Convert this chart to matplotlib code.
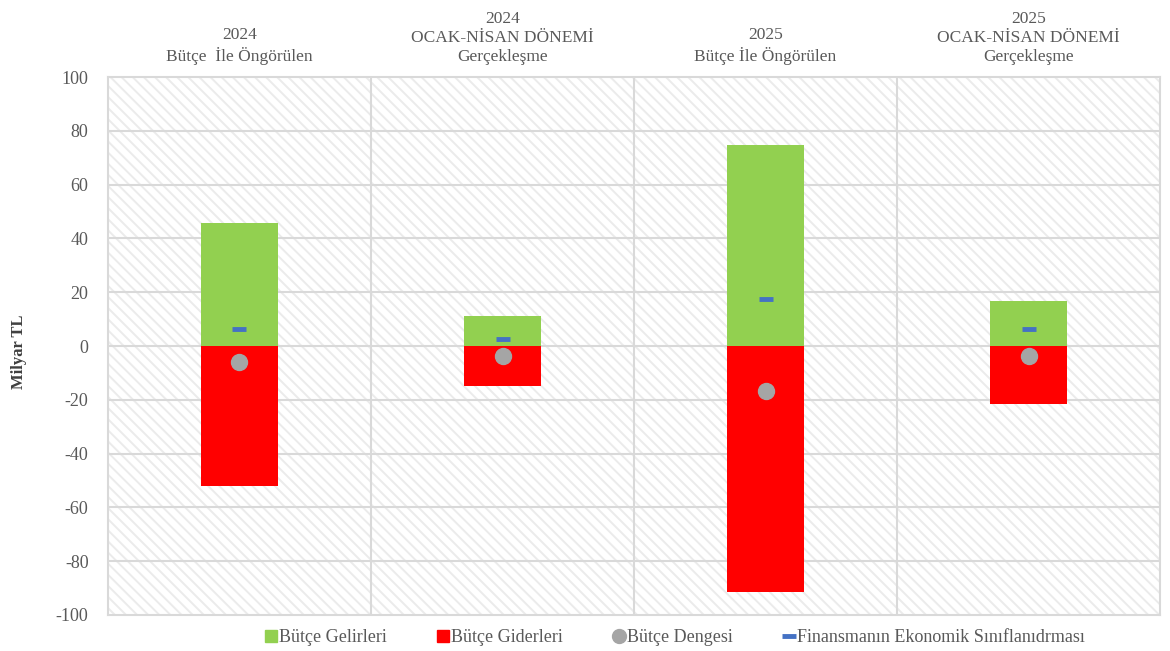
import matplotlib
matplotlib.use("Agg")
import matplotlib.pyplot as plt
import numpy as np
from matplotlib.lines import Line2D
from matplotlib.patches import Rectangle

CATEGORIES = [
    "2024\nBütçe  İle Öngörülen",
    "2024\nOCAK-NİSAN DÖNEMİ\nGerçekleşme",
    "2025\nBütçe İle Öngörülen",
    "2025\nOCAK-NİSAN DÖNEMİ\nGerçekleşme",
]
GELIR = [45.7, 11.2, 74.7, 16.7]
GIDER = [-52.0, -14.9, -91.4, -21.6]
DENGE = [-5.9, -3.7, -16.7, -3.7]
FINANSMAN = [6.3, 2.6, 17.5, 6.3]

GREEN = "#92D050"
RED = "#FF0000"
GRAY = "#A5A5A5"
BLUE = "#4472C4"
TEXT = "#595959"
GRID = "#D9D9D9"

plt.rcParams.update({
    "font.family": ["Liberation Serif", "DejaVu Serif"],
    "font.size": 11,
    "axes.unicode_minus": False,
    "hatch.color": "#EBEBEB",
    "hatch.linewidth": 1.4,
})

fig = plt.figure(figsize=(11.7, 6.51), dpi=100)
ax = fig.add_axes([0.0923, 0.0553, 0.8992, 0.8264])

x = np.arange(len(CATEGORIES))
ax.set_xlim(-0.5, len(CATEGORIES) - 0.5)
ax.set_ylim(-100, 100)

# hatched plot-area background
ax.add_patch(Rectangle((0, 0), 1, 1, transform=ax.transAxes, facecolor="white",
                       edgecolor="#EBEBEB", hatch="\\\\\\", linewidth=0, zorder=0))

for yv in range(-80, 100, 20):
    ax.axhline(yv, color=GRID, linewidth=1.5, zorder=1)
for xv in [0.5, 1.5, 2.5]:
    ax.axvline(xv, color=GRID, linewidth=1.5, zorder=1)

w = 0.29
ax.bar(x, GELIR, w, color=GREEN, zorder=2)
ax.bar(x, GIDER, w, color=RED, zorder=2)
ax.plot(x, DENGE, "o", color=GRAY, markersize=11.5, zorder=3, linestyle="none")
ax.plot(x, FINANSMAN, "_", color=BLUE, markersize=10, markeredgewidth=3.5,
        zorder=3, linestyle="none")

ax.xaxis.tick_top()
ax.set_xticks(x)
ax.set_xticklabels(CATEGORIES, color=TEXT, fontsize=12.5, linespacing=1.22)
ax.tick_params(axis="x", length=0, pad=9)
ax.set_yticks(range(-100, 101, 20))
ax.tick_params(axis="y", length=0, colors=TEXT, labelsize=13, pad=14)
for s in ax.spines.values():
    s.set_color(GRID)
    s.set_linewidth(1.5)

fig.text(0.016, 0.46, "Milyar TL", rotation=90, ha="center", va="center",
         fontsize=12, fontweight="bold", color="#404040")

handles = [
    Line2D([], [], marker="s", color=GREEN, linestyle="none", markersize=8),
    Line2D([], [], marker="s", color=RED, linestyle="none", markersize=8),
    Line2D([], [], marker="o", color=GRAY, linestyle="none", markersize=10),
    Line2D([], [], marker="_", color=BLUE, linestyle="none", markersize=10, markeredgewidth=3.5),
]
labels = ["Bütçe Gelirleri", "Bütçe Giderleri", "Bütçe Dengesi",
          "Finansmanın Ekonomik Sınıflanıdrması"]
leg = fig.legend(handles, labels, loc="center", ncol=4, frameon=False,
                 bbox_to_anchor=(0.577, 0.021), handlelength=0.6, handletextpad=0.15,
                 columnspacing=2.8, fontsize=13)
for t in leg.get_texts():
    t.set_color(TEXT)

fig.savefig("out.png", dpi=100)
